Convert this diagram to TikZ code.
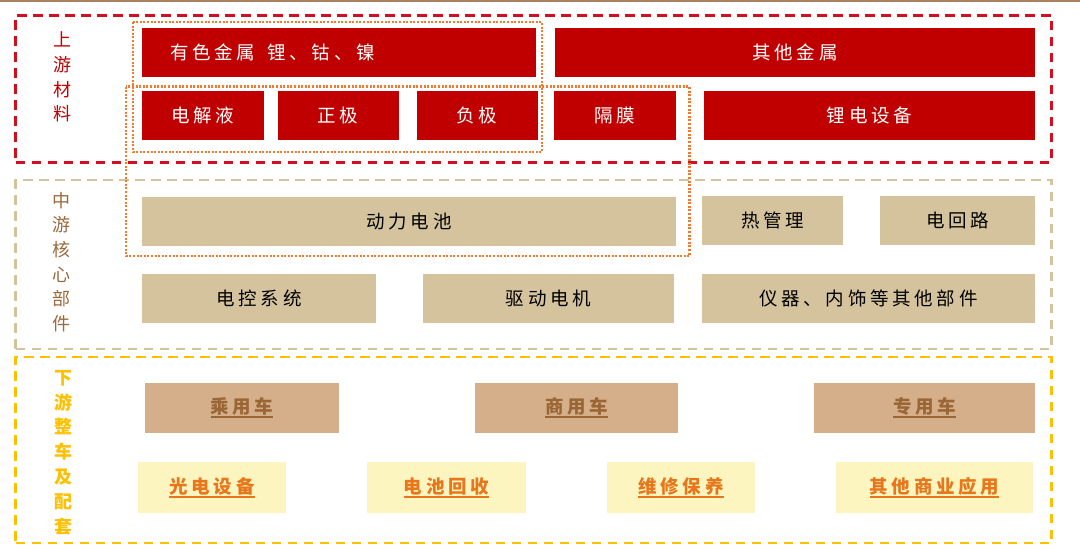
\documentclass[tikz,border=0pt]{standalone}
\usepackage{fontspec}
\setmainfont{Noto Sans CJK SC}
\newfontfamily\cjkls[LetterSpace=20]{Noto Sans CJK SC}
\newfontfamily\cjk{Noto Sans CJK SC}
\definecolor{upred}{HTML}{C00000}
\definecolor{dashred}{HTML}{D01020}
\definecolor{midtan}{HTML}{D4C39C}
\definecolor{midbrown}{HTML}{9A6A3C}
\definecolor{lowgold}{HTML}{FFC000}
\definecolor{cartan}{HTML}{D4AF8A}
\definecolor{cartext}{HTML}{9A6636}
\definecolor{paleyel}{HTML}{FCF5C0}
\definecolor{orgtext}{HTML}{E8761A}
\definecolor{dotorange}{HTML}{F07A30}
\definecolor{topbrown}{HTML}{A8805E}
\newsavebox\ulbox
\newcommand{\myul}[1]{\sbox\ulbox{#1}\leavevmode\rlap{\usebox\ulbox}\rule[-4.5pt]{\wd\ulbox}{1.3pt}}
\begin{document}
\begin{tikzpicture}[x=1pt,y=-1pt,
  every node/.style={inner sep=0pt,outer sep=0pt},
  boxbase/.style={minimum height=49pt,font=\cjkls\fontsize{18.5}{22}\selectfont},
  redbox/.style={boxbase,fill=upred,text=white},
  tanbox/.style={boxbase,fill=midtan,text=black},
  carbox/.style={boxbase,minimum height=50pt,fill=cartan,text=cartext,font=\cjkls\bfseries\fontsize{18.5}{22}\selectfont},
  yelbox/.style={boxbase,minimum height=51pt,fill=paleyel,text=orgtext,font=\cjkls\bfseries\fontsize{18.5}{22}\selectfont},
  frame/.style={draw,line width=2.6pt,dash pattern=on 9.5pt off 6.5pt},
  dotframe/.style={draw=dotorange,line width=2.2pt,dash pattern=on 2pt off 1.6pt},
  sidelabel/.style={align=center,font=\cjk\fontsize{18}{24.6}\selectfont}
]
\useasboundingbox (0,0) rectangle (1080,552);
\fill[white] (0,0) rectangle (1080,552);
\coordinate (tl) at (0,1);
\coordinate (tr) at (1080,1);
\draw[topbrown,line width=2.2pt] (tl) -- (tr);

% frames
\node[frame,draw=dashred,minimum width=1036pt,minimum height=147pt] (upframe) at (533.5,88.8) {};
\node[frame,draw=midtan,minimum width=1036pt,minimum height=169pt] (midframe) at (533.5,264.5) {};
\node[frame,draw=lowgold,minimum width=1036pt,minimum height=186pt] (lowframe) at (533.5,450) {};

% side labels
\node[sidelabel,text=upred] (uplabel) at (62,77) {上\\游\\材\\料};
\node[sidelabel,text=midbrown] (midlabel) at (61,262) {中\\游\\核\\心\\部\\件};
\node[sidelabel,text=lowgold,font=\cjk\bfseries\fontsize{18}{24.8}\selectfont] (lowlabel) at (63,452.5) {下\\游\\整\\车\\及\\配\\套};

% upstream
\node[redbox,minimum width=394pt,text width=338pt,inner xsep=28pt,align=left] (nonfer) at (339,52) {有色金属\ \ 锂、钴、镍};
\node[redbox,minimum width=480pt] (othmet) at (795,52) {其他金属};
\node[redbox,minimum width=122pt] (elec) at (203,115.5) {电解液};
\node[redbox,minimum width=121pt] (cath) at (338,115.5) {正极};
\node[redbox,minimum width=121pt] (anod) at (477,115.5) {负极};
\node[redbox,minimum width=122pt] (sep) at (615,115.5) {隔膜};
\node[redbox,minimum width=331pt] (equip) at (869.5,115.5) {锂电设备};

% midstream
\node[tanbox,minimum width=534pt] (battery) at (409,221.8) {动力电池};
\node[tanbox,minimum width=141pt] (thermal) at (772.5,220) {热管理};
\node[tanbox,minimum width=155pt] (circuit) at (957.5,220) {电回路};
\node[tanbox,minimum width=234pt] (ctrl) at (259,298) {电控系统};
\node[tanbox,minimum width=251pt] (motor) at (548.5,298) {驱动电机};
\node[tanbox,minimum width=333pt] (other) at (868.5,298) {仪器、内饰等其他部件};

% downstream
\node[carbox,minimum width=194pt] (pass) at (242,407.5) {\myul{乘用车}};
\node[carbox,minimum width=203pt] (comm) at (576.5,407.5) {\myul{商用车}};
\node[carbox,minimum width=221pt] (spec) at (924.5,407.5) {\myul{专用车}};
\node[yelbox,minimum width=148pt] (pv) at (212,487.5) {\myul{光电设备}};
\node[yelbox,minimum width=159pt] (recyc) at (446.5,487.5) {\myul{电池回收}};
\node[yelbox,minimum width=148pt] (maint) at (681,487.5) {\myul{维修保养}};
\node[yelbox,minimum width=197pt] (biz) at (934.5,487.5) {\myul{其他商业应用}};

% dotted groupings
\coordinate (a1) at (133,22);
\coordinate (a2) at (542,152);
\draw[dotframe] (a1) rectangle (a2);
\coordinate (b1) at (126,86.5);
\coordinate (b2) at (689.5,256);
\draw[dotframe] (b1) rectangle (b2);
\end{tikzpicture}
\end{document}
